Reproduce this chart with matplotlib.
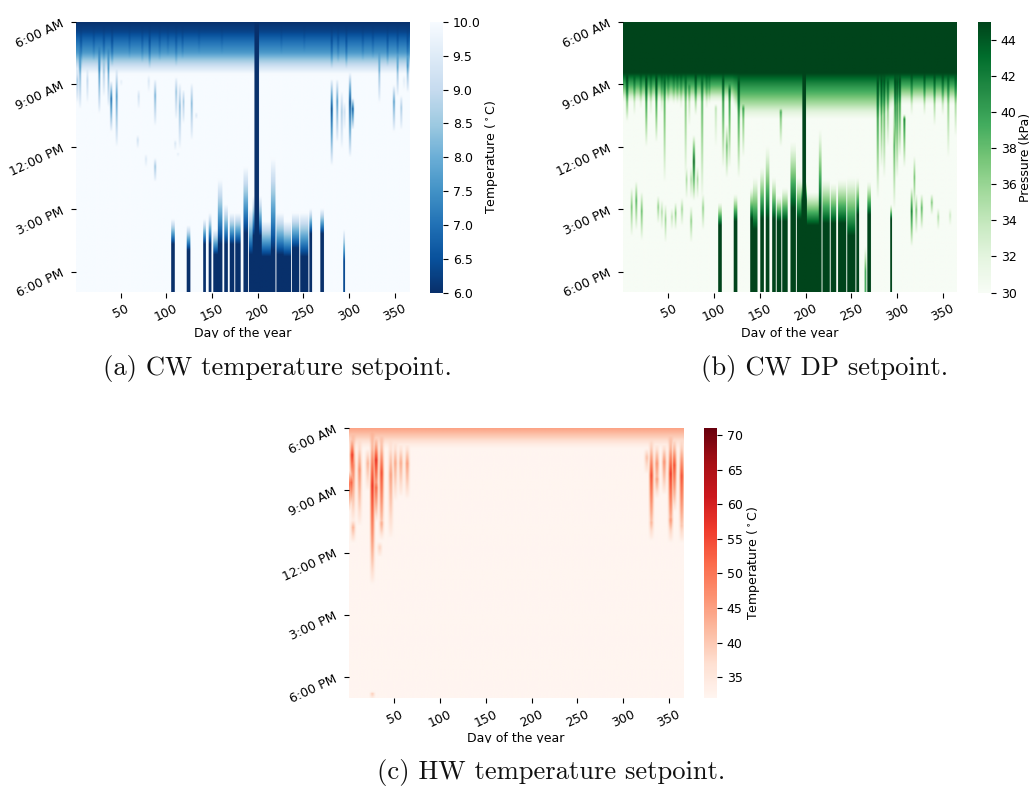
import numpy as np
import matplotlib
matplotlib.use("Agg")
import matplotlib.pyplot as plt
from matplotlib.transforms import Bbox

W, H = 1032, 789
n_rows = 156  # 5 min rows, 6:00 AM to 7:00 PM

day_ticks = [50, 100, 150, 200, 250, 300, 350]
hour_ticks = [0, 3, 6, 9, 12]
hour_labels = ["6:00 AM", "9:00 AM", "12:00 PM", "3:00 PM", "6:00 PM"]

# morning band: hour after 6:00 AM -> setpoint
band_hours_a = [0, 0.5, 1.0, 1.5, 2.0, 2.3, 2.55]
band_vals_a = [6.0, 6.3, 7.0, 7.6, 8.8, 9.5, 10.0]
band_hours_b = [0, 2.5, 3.0, 3.5, 4.0, 4.3, 4.7]
band_vals_b = [45, 45, 41.5, 38.5, 35, 32.5, 30]
band_hours_c = [0, 0.3, 0.6, 0.8, 1.0]
band_vals_c = [45, 41, 37, 34, 32]

# CW DP: hour the morning band has faded out, by day
fade_days_b = [1, 120, 128, 280, 300, 365]
fade_ends_b = [3.9, 3.9, 4.7, 4.7, 4.0, 4.0]

# spikes: day, first hour, last hour, strength
spikes_a = [
    (5, 1.2, 4.2, .55), (1.5, 2.3, 3.9, .35), (13, 2.3, 3.9, .25), (26, 1.2, 4.4, .65),
    (31, 1.8, 3.6, .35), (36, 1.3, 4.1, .55), (39, 2.9, 5.3, .8), (45, 2.3, 6.0, .6),
    (50, 2.8, 3.1, .1), (69, 3.3, 4.2, .2), (68, 5.5, 6.1, .2), (77, 6.4, 7.0, .15),
    (80, 2.6, 3.4, .15), (87, 2.8, 5.0, .5), (87, 6.6, 7.7, .4), (110, 2.7, 4.7, .4),
    (114, 3.0, 6.1, .45), (118, 3.3, 4.9, .35), (127, 3.0, 5.7, .45), (109, 5.7, 6.2, .15),
    (112, 6.3, 6.5, .1), (132, 4.4, 4.7, .15), (280, 2.8, 6.9, .95), (286, 2.8, 5.8, .6),
    (291, 3.4, 6.1, .35), (294, 3.9, 5.2, .2), (300, 2.5, 6.5, 1.0), (303, 3.7, 5.2, .9),
    (332, 1.5, 3.9, .45), (348, 3.1, 5.3, .6), (352, 1.5, 3.6, .45), (356, 3.6, 5.2, .35),
    (363, 1.5, 3.4, .55), (359, 2.6, 3.3, .1),
]
# faint dark streaks inside the morning band of (a)
streaks_a = [
    (6, .25, 2.3, .45), (20, .25, 1.9, .3), (31, .25, 2.1, .4), (40, .25, 2.2, .5), (59, .25, 1.8, .25),
    (73, .25, 2.0, .3), (81, .25, 2.3, .5), (92, .25, 1.9, .3), (101, .25, 1.7, .25), (110, .25, 2.2, .35),
    (117, .25, 1.8, .3), (135, .25, 1.6, .2), (160, .25, 1.6, .2), (225, .25, 1.6, .2), (250, .25, 1.5, .2),
    (280, .25, 2.3, .5), (287, .25, 2.0, .35), (296, .25, 2.3, .45), (314, .25, 1.9, .3), (325, .25, 1.8, .3),
    (341, .25, 2.2, .4), (352, .25, 1.9, .35), (363, .25, 2.2, .45),
]

# bars that climb from the evening: first day, last day, top hour, hour it is full, strength
bars_a = [
    (105, 108, 9.5, 10.7, 1), (122, 125, 9.8, 11, 1), (140, 142, 9.5, 10.7, 1), (146, 148, 9.2, 10.7, 1),
    (151, 155, 10.0, 11.2, 1), (156, 160, 7.6, 10.7, 1), (163, 166, 8.8, 10.7, 1), (169, 173, 9.2, 10.7, 1),
    (175, 180, 9.2, 10.7, 1), (184, 188, 7.0, 10.2, 1), (190, 194, 9.0, 11.2, 1), (196, 200, 0, 0.01, 1),
    (194, 203, 8.4, 10.3, 1), (204, 217, 9.6, 11.3, 1), (214, 218, 6.6, 11, 1), (220, 227, 9.2, 11.2, 1),
    (228, 235, 9.6, 11.3, 1), (237, 244, 9.2, 10.9, 1), (246, 254, 9.2, 11.3, 1), (256, 258, 9.0, 10.2, 1),
    (268, 271, 9.0, 10.2, 1), (293, 294, 10.0, 11.5, .9),
]

morning_b = [
    (5, 2.5, 4.8, 1), (13, 2.6, 4.5, .5), (20, 2.5, 4.2, .5), (26, 2.5, 6.0, .95), (31, 2.5, 4.5, .5),
    (37, 2.5, 5.8, .95), (43, 2.5, 4.4, .5), (46, 2.5, 7.7, .7), (50, 2.5, 4.0, .4), (56, 2.5, 4.0, .4),
    (60, 2.5, 4.0, .4), (64, 2.5, 4.2, .45), (69, 2.5, 7.5, .6), (73, 3, 5, .4), (80, 2.5, 4.5, .9),
    (87, 2.5, 8.5, .7), (92, 2.5, 4.2, .5), (95, 2.5, 4.0, .4), (102, 4, 6, .3), (110, 2.5, 7, .9),
    (117, 3, 7, .8), (127, 2.6, 7.5, .95), (132, 4, 6.5, .6), (173, 4.2, 6, .6), (279, 2.5, 8.5, .95),
    (283, 2.5, 7, .85), (286, 2.5, 7.5, .8), (290, 2.7, 6, .7), (298, 2.5, 7, 1), (300, 2.5, 7.5, 1),
    (303, 2.5, 6.5, 1), (308, 4.5, 7, .8), (316, 2.5, 4.5, .6), (330, 2.5, 4.5, .7), (341, 2.5, 5, .7),
    (350, 2.5, 4.5, .7), (356, 2.5, 6.5, .6), (364, 2.5, 5.5, .6),
]
midday_b = [
    (78, 5.5, 8.6, 1), (70, 7, 8.5, .35), (75, 7, 8.5, .35), (82, 7, 8.5, .35), (88, 8.3, 10, .45),
    (114, 5, 7.5, .55), (297, 4, 9, .6), (319, 6.5, 9, .5), (10, 8, 10.3, .5), (15, 7.7, 10, .6),
    (21, 8.2, 10.5, .55), (39, 8.4, 9.7, .45), (43, 8.6, 10, .35), (47, 8.8, 10.6, .4), (54, 9, 10, .3),
    (58, 8.7, 10, .45), (65, 8.5, 9.8, .4), (75, 8.9, 10.6, .45), (316, 8, 10.8, .85), (321, 8.3, 10.2, .5),
    (327, 8.3, 10, .6), (338, 8.3, 9.3, .5), (345, 9, 10, .35), (358, 9, 9.8, .25),
]
bars_b = [
    (105, 108, 8.7, 9.8, 1), (122, 125, 8.3, 9.6, 1), (140, 142, 8, 9.5, 1), (143, 147, 7.5, 10, 1),
    (151, 154, 7, 9.5, 1), (157, 160, 6, 9.5, 1), (164, 167, 7.5, 9.5, 1), (169, 173, 8.4, 9.6, 1),
    (175, 180, 8, 9.6, 1), (184, 189, 5.8, 9, 1), (191, 195, 7.5, 9.5, 1), (197, 200, 0, 0.01, 1),
    (196, 201, 7.7, 8.6, 1), (202, 214, 8.2, 9.8, 1), (215, 217, 5.2, 9, 1), (219, 226, 7.6, 9.7, 1),
    (228, 233, 7.8, 9.7, 1), (236, 244, 7.6, 9.7, 1), (246, 254, 7.5, 10.3, 1), (256, 258, 7.5, 9.3, 1),
    (265, 266, 10.8, 12, .6), (268, 271, 7.7, 9.3, 1), (293, 294, 8.8, 9.5, 1),
]

spikes_c = [
    (4, 0.5, 2.8, .95), (5, 0.3, 4.6, .65), (1, 2, 4.0, .7), (12, 0.6, 4.7, .55), (21, 1, 3, .4),
    (26, 0.2, 7.5, .95), (30, 0.5, 3.5, 1.0), (36, 0.4, 5.4, .85), (46, 0.6, 5.3, .5), (51, 0.7, 3.5, .45),
    (57, 0.8, 3.3, .45), (64, 0.8, 3.4, .5), (34, 5.5, 6.2, .25), (26, 12.7, 13, .3),
    (3, 2, 3.8, .8), (26, 2, 3.5, .9), (30, 2, 4.5, .75), (26, 4, 5, .55), (36, 4.2, 5.3, .45), (5, 4.4, 5.5, .4),
    (325, 1, 2.2, .35), (330, 0.6, 5.4, .85), (336, 0.8, 3.4, .55), (344, 0.8, 3.2, .55), (351, 0.4, 5.5, .95),
    (355, 0.6, 4, .85), (363, 0.6, 5.5, .85), (351, 2, 3.8, .85), (351, 4, 5.2, .55), (330, 4.2, 5.2, .4),
    (363, 4.4, 5.2, .35), (336, 2, 3.3, .5),
]

hours = (np.arange(n_rows) + 0.5) / n_rows * 13


def build_grid(base, target, groups, bars):
    s = np.zeros((n_rows, 365))
    for spikes, peak_frac, spread in groups:
        for day, top, bottom, strength in spikes:
            peak = top + peak_frac * (bottom - top)
            prof = np.interp(hours, [top, peak, bottom], [0, 1, 0]) ** 0.75 * strength
            col = int(round(day)) - 1
            for off, w in enumerate(spread):
                for c in {col - off, col + off}:
                    if 0 <= c < 365:
                        s[:, c] = np.maximum(s[:, c], prof * w)
    for first, last, top, full, strength in bars:
        prof = np.interp(hours, [top, full], [0, 1]) * strength
        s[:, first - 1:last] = np.maximum(s[:, first - 1:last], prof[:, None])
    return base + (target - base) * s


def flat_base(knots, vals):
    return np.tile(np.interp(hours, knots, vals)[:, None], (1, 365))


base_b = np.zeros((n_rows, 365))
for d in range(365):
    end = np.interp(d + 1, fade_days_b, fade_ends_b)
    k = np.array(band_hours_b, dtype=float)
    k[1:] = 2.5 + (k[1:] - 2.5) * (end - 2.5) / (4.7 - 2.5)
    base_b[:, d] = np.interp(hours, k, band_vals_b)

grid_a = build_grid(flat_base(band_hours_a, band_vals_a), 6.0,
                    [(spikes_a + streaks_a, .35, (1, .55))], bars_a)
grid_b = build_grid(base_b, 45.0,
                    [(morning_b, .08, (1, .6)), (midday_b, .4, (1, .55))], bars_b)
grid_c = build_grid(flat_base(band_hours_c, band_vals_c), 58.0,
                    [(spikes_c, .35, (1, .85, .5, .2))], [])

plt.rcParams["font.family"] = "DejaVu Sans"
plt.rcParams["font.size"] = 9
fig = plt.figure(figsize=(W / 100, H / 100), dpi=100)


def px_axes(x0, y0, x1, y1):
    return fig.add_axes([x0 / W, 1 - y1 / H, (x1 - x0) / W, (y1 - y0) / H])


def panel(grid, cmap, vmin, vmax, box, cbox, cbar_ticks, cbar_fmt, cbar_label, caption, cap_xy, label_cut):
    ax = px_axes(*box)
    im = ax.imshow(grid, cmap=cmap, vmin=vmin, vmax=vmax, aspect="auto", interpolation="bilinear",
                   extent=[0.5, 365.5, 13, 0])
    for sp in ax.spines.values():
        sp.set_visible(False)
    ax.set_xticks(day_ticks)
    ax.set_xticklabels(day_ticks, rotation=25)
    ax.set_yticks(hour_ticks)
    ax.set_yticklabels(hour_labels, rotation=25)
    ax.tick_params(length=3.5, width=0.8, pad=3.5)
    lab = fig.text((box[0] + box[2]) / 2 / W, 1 - (label_cut - 1) / H, "Day of the year",
                   ha="center", va="baseline", fontsize=9)
    # the source panels were cropped right through the descenders
    lab.set_clip_box(Bbox([[0, H - label_cut], [W, H]]))
    lab.set_clip_on(True)

    cax = px_axes(*cbox)
    cb = fig.colorbar(im, cax=cax)
    cb.outline.set_visible(False)
    cb.set_ticks(cbar_ticks)
    cb.set_ticklabels([cbar_fmt % t for t in cbar_ticks])
    cb.ax.tick_params(length=3.5, width=0.8, pad=3.5)
    cb.set_label(cbar_label, fontsize=9, labelpad=2)

    fig.text(cap_xy[0] / W, 1 - cap_xy[1] / H, caption, family="cmr10", fontsize=19.15,
             ha="center", va="baseline", color="#111111")


panel(grid_a, "Blues_r", 6, 10, (75.5, 22, 409, 292.5), (430, 22, 443, 292.5),
      [6, 6.5, 7, 7.5, 8, 8.5, 9, 9.5, 10], "%.1f", r"Temperature ($^\circ$C)",
      "(a) CW temperature setpoint.", (277.5, 375), 338)
panel(grid_b, "Greens", 30, 45, (623, 22, 957, 292.5), (977.5, 22, 991, 292.5),
      [30, 32, 34, 36, 38, 40, 42, 44], "%d", "Pressure (kPa)",
      "(b) CW DP setpoint.", (825, 375), 338)
panel(grid_c, "Reds", 32, 71, (349, 428, 683, 698), (704, 428, 717, 698),
      [35, 40, 45, 50, 55, 60, 65, 70], "%d", r"Temperature ($^\circ$C)",
      "(c) HW temperature setpoint.", (551, 779), 743)

fig.savefig("out.png", dpi=100)
